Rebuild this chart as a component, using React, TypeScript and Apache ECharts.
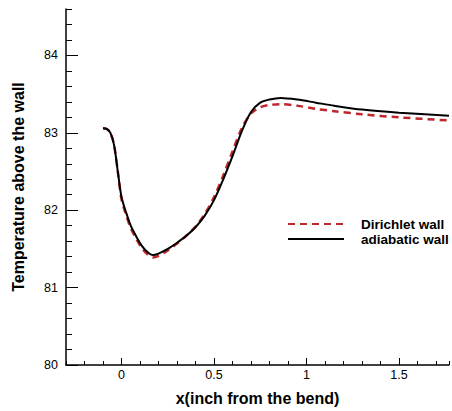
import React, { useEffect, useRef } from "react";
import * as echarts from "echarts";

const xValues = [-0.10, -0.08, -0.06, -0.04, -0.02, 0.0, 0.025, 0.05, 0.08, 0.11, 0.14, 0.17, 0.20, 0.25, 0.30, 0.35, 0.40, 0.45, 0.50, 0.55, 0.60, 0.65, 0.70, 0.75, 0.80, 0.86, 0.95, 1.05, 1.15, 1.30, 1.50, 1.77];
const adiabatic = [83.06, 83.05, 83.0, 82.84, 82.5, 82.17, 81.97, 81.8, 81.66, 81.54, 81.46, 81.42, 81.44, 81.5, 81.58, 81.67, 81.78, 81.93, 82.13, 82.4, 82.7, 83.02, 83.27, 83.39, 83.43, 83.45, 83.43, 83.39, 83.35, 83.3, 83.26, 83.22];
const dirichlet = [83.06, 83.05, 83.0, 82.84, 82.5, 82.14, 81.94, 81.77, 81.63, 81.51, 81.43, 81.39, 81.41, 81.48, 81.57, 81.67, 81.79, 81.95, 82.17, 82.45, 82.76, 83.06, 83.25, 83.33, 83.36, 83.37, 83.35, 83.31, 83.28, 83.24, 83.2, 83.16];
const majorX = [0, 0.5, 1, 1.5];
const majorY = [80, 81, 82, 83, 84];
const seriesNames = ["Dirichlet wall", "adiabatic wall"];

const FONT = "Arial, 'Liberation Sans', sans-serif";

export default function App() {
  const ref = useRef<HTMLDivElement>(null);
  useEffect(() => {
    if (!ref.current) return;
    const chart = echarts.init(ref.current, undefined, { renderer: "svg" });
    const xMin = -0.3, xMax = 1.77, yMin = 80, yMax = 84.6;
    chart.setOption({
      animation: false,
      backgroundColor: "#ffffff",
      grid: { left: 66, right: 0, top: 9, bottom: 44 },
      legend: {
        orient: "vertical",
        left: 287,
        top: 217,
        itemWidth: 56,
        itemHeight: 14,
        itemGap: 1,
        padding: 0,
        itemStyle: { color: "transparent", borderColor: "transparent", borderWidth: 0, opacity: 0 },
        textStyle: { fontFamily: FONT, fontWeight: "bold", fontSize: 13.5, color: "#000", padding: [0, 0, 0, 12] },
        data: seriesNames,
      },
      xAxis: [
        {
          type: "value", min: xMin, max: xMax, interval: 0.1,
          name: "x(inch from the bend)", nameLocation: "middle", nameGap: 25,
          nameTextStyle: { fontFamily: FONT, fontWeight: "bold", fontSize: 16, color: "#000" },
          axisLine: { show: true, onZero: false, lineStyle: { color: "#000", width: 1.5 } },
          axisTick: { show: true, inside: true, length: 4, lineStyle: { color: "#000" } },
          splitLine: { show: false },
          axisLabel: {
            fontFamily: FONT, fontSize: 12.5, color: "#000", margin: 3,
            formatter: (v: number) => (Math.abs(v * 2 - Math.round(v * 2)) < 1e-6 ? String(Math.round(v * 2) / 2) : ""),
          },
        },
        {
          type: "value", min: xMin, max: xMax, position: "bottom", gridIndex: 0,
          axisLine: { show: false, onZero: false },
          axisTick: { show: true, inside: true, length: 7, customValues: majorX, lineStyle: { color: "#000" } },
          axisLabel: { show: false },
          splitLine: { show: false },
        },
      ],
      yAxis: [
        {
          type: "value", min: yMin, max: yMax, interval: 0.2,
          name: "Temperature above the wall", nameLocation: "middle", nameGap: 40,
          nameTextStyle: { fontFamily: FONT, fontWeight: "bold", fontSize: 16, color: "#000" },
          axisLine: { show: true, onZero: false, lineStyle: { color: "#000", width: 1.5 } },
          axisTick: { show: true, inside: true, length: 6, lineStyle: { color: "#000" } },
          splitLine: { show: false },
          axisLabel: {
            fontFamily: FONT, fontSize: 12.5, color: "#000", margin: 8,
            formatter: (v: number) => (Math.abs(v - Math.round(v)) < 1e-6 ? String(Math.round(v)) : ""),
          },
        },
        {
          type: "value", min: yMin, max: yMax, position: "left", gridIndex: 0,
          axisLine: { show: false, onZero: false },
          axisTick: { show: true, inside: true, length: 12, customValues: majorY, lineStyle: { color: "#000" } },
          axisLabel: { show: false },
          splitLine: { show: false },
        },
      ],
      series: [
        {
          name: seriesNames[0], type: "line", xAxisIndex: 0, yAxisIndex: 0,
          data: xValues.map((x, i) => [x, dirichlet[i]]),
          smooth: 0.3, symbol: "none", z: 2,
          lineStyle: { color: "#c0272d", width: 2.5, type: [7, 5] },
          itemStyle: { color: "#c0272d" },
        },
        {
          name: seriesNames[1], type: "line", xAxisIndex: 0, yAxisIndex: 0,
          data: xValues.map((x, i) => [x, adiabatic[i]]),
          smooth: 0.3, symbol: "none", z: 3,
          lineStyle: { color: "#000", width: 2 },
          itemStyle: { color: "#000" },
        },
      ],
    });
    return () => chart.dispose();
  }, []);
  return <div ref={ref} style={{ position: "fixed", left: 0, top: 0, width: 452, height: 411 }} />;
}
